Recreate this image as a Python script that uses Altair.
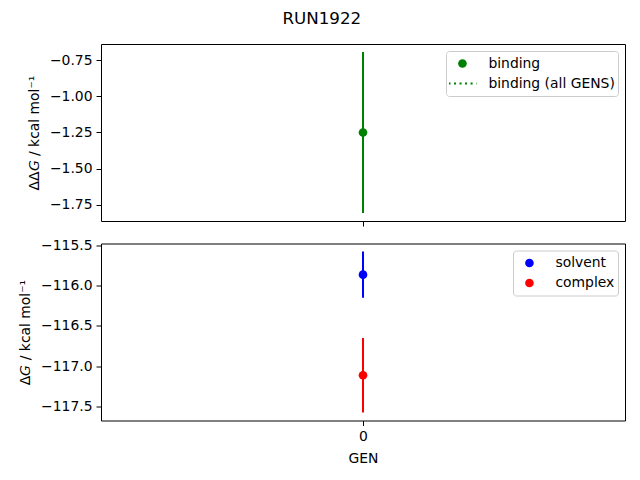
import altair as alt
import pandas as pd
import math

# ---- data ----
gens = [0]
binding = [-1.25]
binding_err = [0.555]
solvent = [-115.8625]
solvent_err = [0.2875]
complex_ = [-117.1125]
complex_err = [0.4625]

top_series = ["binding", "binding (all GENS)"]
bot_series = ["solvent", "complex"]
top_ticks = [-1.75, -1.5, -1.25, -1.0, -0.75]
bot_ticks = [-117.5, -117.0, -116.5, -116.0, -115.5]

FONT = "DejaVu Sans"
FS = 13.9
PSIZE = 75


def dotted_path(size=PSIZE, half_px=14, period_px=5.52, dash_px=2.08, lw_px=2.08):
    s = math.sqrt(size) / 2
    half, period, dash, hh = half_px / s, period_px / s, dash_px / s, lw_px / 2 / s
    parts = []
    x = -half
    while x < half:
        x2 = min(x + dash, half)
        parts.append(f"M{x:.3f},{-hh:.3f}L{x2:.3f},{-hh:.3f}L{x2:.3f},{hh:.3f}L{x:.3f},{hh:.3f}Z")
        x += period
    return "".join(parts)


def limits(vals, errs):
    lo = min(v - e for v, e in zip(vals, errs))
    hi = max(v + e for v, e in zip(vals, errs))
    m = (hi - lo) * 0.05
    return [lo - m, hi + m]


top_df = pd.DataFrame({
    "gen": gens,
    "value": binding,
    "lo": [v - e for v, e in zip(binding, binding_err)],
    "hi": [v + e for v, e in zip(binding, binding_err)],
    "series": ["binding"] * len(gens),
})

rows = []
for name, vals, errs, col in [("solvent", solvent, solvent_err, "#0000ff"),
                              ("complex", complex_, complex_err, "#ff0000")]:
    for g, v, e in zip(gens, vals, errs):
        rows.append({"gen": g, "value": v, "lo": v - e, "hi": v + e,
                     "series": name, "col": col})
bot_df = pd.DataFrame(rows)

W, H = 524, 177
xscale = alt.Scale(domain=[-1, 1], nice=False, zero=False)


def legend():
    return alt.Legend(
        title=None, orient="top-right", offset=7, padding=3, rowPadding=1,
        clipHeight=19,
        fillColor="rgba(255,255,255,0.8)", strokeColor="#cccccc",
        cornerRadius=3, labelFontSize=FS, labelFont=FONT, labelColor="black",
        symbolSize=PSIZE, symbolOffset=6.5, labelOffset=19, symbolStrokeWidth=0,
    )


ytop = alt.Scale(domain=limits(binding, binding_err), nice=False, zero=False)
xtop = alt.X("gen:Q", scale=xscale,
             axis=alt.Axis(values=[0], labels=False, title=None))

top_rule = alt.Chart(top_df).mark_rule(strokeWidth=2, color="#008000").encode(
    x=xtop,
    y=alt.Y("lo:Q", scale=ytop,
            axis=alt.Axis(values=top_ticks, format=".2f",
                          title="ΔΔ𝘎 / kcal mol⁻¹")),
    y2="hi:Q",
)
top_pts = alt.Chart(top_df).mark_point(filled=True, opacity=1, size=PSIZE).encode(
    x=xtop,
    y=alt.Y("value:Q", scale=ytop),
    color=alt.Color("series:N",
                    scale=alt.Scale(domain=top_series, range=["#008000", "#008000"]),
                    legend=legend()),
    shape=alt.Shape("series:N",
                    scale=alt.Scale(domain=top_series, range=["circle", dotted_path()]),
                    legend=legend()),
)
top = alt.layer(top_rule, top_pts).properties(width=W, height=H)

ybot = alt.Scale(domain=limits(solvent + complex_, solvent_err + complex_err),
                 nice=False, zero=False)
xbot = alt.X("gen:Q", scale=xscale,
             axis=alt.Axis(values=[0], format="d", title="GEN"))

bot_rule = alt.Chart(bot_df).mark_rule(strokeWidth=2).encode(
    x=xbot,
    y=alt.Y("lo:Q", scale=ybot,
            axis=alt.Axis(values=bot_ticks, format=".1f",
                          title="Δ𝘎 / kcal mol⁻¹")),
    y2="hi:Q",
    color=alt.Color("col:N", scale=None),
)
bot_pts = alt.Chart(bot_df).mark_point(filled=True, opacity=1, size=PSIZE,
                                       shape="circle").encode(
    x=xbot,
    y=alt.Y("value:Q", scale=ybot),
    color=alt.Color("series:N",
                    scale=alt.Scale(domain=bot_series, range=["#0000ff", "#ff0000"]),
                    legend=legend()),
)
bot = alt.layer(bot_rule, bot_pts).properties(width=W, height=H)

chart = alt.vconcat(top, bot, spacing=10.5).resolve_scale(
    color="independent", shape="independent", x="independent", y="independent"
).resolve_legend(color="independent", shape="independent").properties(
    title=alt.TitleParams("RUN1922", fontSize=16.7, font=FONT, fontWeight="normal",
                          color="black", anchor="middle", offset=16),
    padding={"left": 10, "top": 2, "right": 5, "bottom": 5},
    background="white",
).configure_view(
    stroke="black", strokeWidth=1
).configure_axis(
    domain=False, grid=False, tickColor="black", tickSize=5, tickWidth=1,
    labelFont=FONT, labelFontSize=FS, labelColor="black", labelPadding=4,
    titleFont=FONT, titleFontSize=FS, titleFontWeight="normal", titleColor="black",
    titlePadding=8,
)

chart.save("out.html", embed_options={"renderer": "svg", "actions": False})
